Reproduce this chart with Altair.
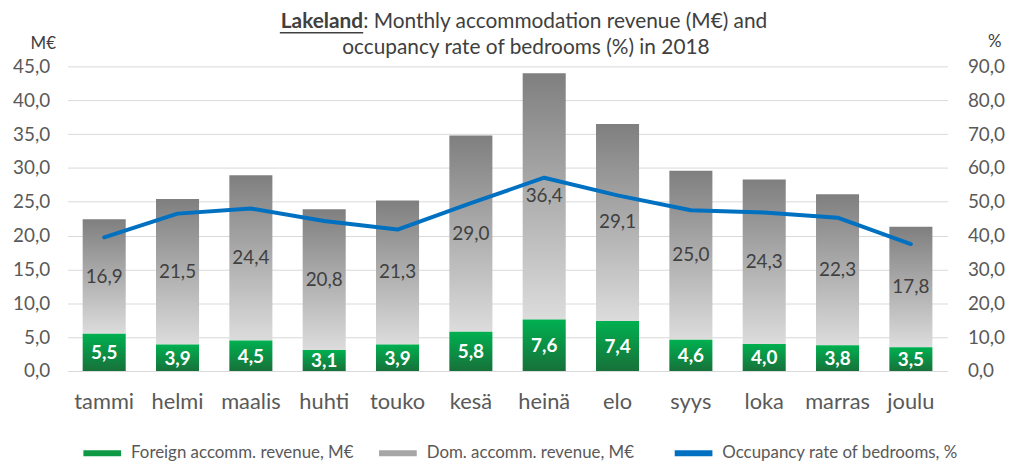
import altair as alt
import pandas as pd

months = ["tammi", "helmi", "maalis", "huhti", "touko", "kesä", "heinä",
          "elo", "syys", "loka", "marras", "joulu"]
foreign = [5.5, 3.9, 4.5, 3.1, 3.9, 5.8, 7.6, 7.4, 4.6, 4.0, 3.8, 3.5]
domestic = [16.9, 21.5, 24.4, 20.8, 21.3, 29.0, 36.4, 29.1, 25.0, 24.3, 22.3, 17.8]
occupancy = [39.5, 46.5, 48.0, 44.3, 41.8, 49.6, 57.1, 51.9, 47.5, 46.8, 45.3, 37.5]

left_ticks = [0, 5, 10, 15, 20, 25, 30, 35, 40, 45]
right_ticks = [0, 10, 20, 30, 40, 50, 60, 70, 80, 90]

S_FOR = "Foreign accomm. revenue, M€"
S_DOM = "Dom. accomm. revenue, M€"
S_OCC = "Occupancy rate of bedrooms, %"

df = pd.DataFrame({"month": months, "foreign": foreign,
                   "domestic": domestic, "occupancy": occupancy})
df["series"] = S_OCC

FONT = "Lato"
W, H = 887, 307
LBL = "#595959"
FMT = "replace(format(datum.value, '.1f'), '.', ',')"

x = alt.X("month:N", sort=months,
          scale=alt.Scale(paddingInner=0.413, paddingOuter=0.2065),
          axis=alt.Axis(title=None, labelAngle=0, labelFontSize=22, labelFont=FONT,
                        labelColor=LBL, labelPadding=21, ticks=False, tickSize=0,
                        domain=False))

base = alt.Chart(df).transform_calculate(
    total="datum.foreign + datum.domestic",
    fmid="datum.foreign / 2",
    dmid="datum.foreign + datum.domestic / 2",
    flab="replace(format(datum.foreign, '.1f'), '.', ',')",
    dlab="replace(format(datum.domestic, '.1f'), '.', ',')",
)

yscale = alt.Scale(domain=[0, 45], nice=False)
left_axis = alt.Axis(values=left_ticks, labelExpr=FMT, grid=True, gridColor="#d9d9d9",
                     ticks=False, tickSize=0, domain=False, labelFontSize=19,
                     labelFont=FONT, labelColor=LBL, labelPadding=18, labelOverlap=False,
                     title="M€", titleAngle=0, titleX=-25, titleY=-23,
                     titleAlign="center", titleBaseline="middle", titleFontSize=17,
                     titleFont=FONT, titleFontWeight="normal", titleColor="#404040")

green = alt.LinearGradient(gradient="linear",
                           stops=[alt.GradientStop(color="#00b050", offset=0),
                                  alt.GradientStop(color="#17713a", offset=1)],
                           x1=0, x2=0, y1=0, y2=1)
grey = alt.LinearGradient(gradient="linear",
                          stops=[alt.GradientStop(color="#7f7f7f", offset=0),
                                 alt.GradientStop(color="#dcdcdc", offset=1)],
                          x1=0, x2=0, y1=0, y2=1)

dom_bar = base.mark_bar(color=grey).encode(
    x=x, y=alt.Y("total:Q", scale=yscale, axis=left_axis), y2="foreign:Q")
for_bar = base.mark_bar(color=green).encode(
    x=x, y=alt.Y("foreign:Q", scale=yscale, axis=left_axis))
dom_txt = base.mark_text(fontSize=19, font=FONT, color="#404040", baseline="middle").encode(
    x=x, y=alt.Y("dmid:Q", scale=yscale, axis=left_axis), text="dlab:N")
for_txt = base.mark_text(fontSize=19, font=FONT, fontWeight="bold", color="white",
                         baseline="middle", dy=1).encode(
    x=x, y=alt.Y("fmid:Q", scale=yscale, axis=left_axis), text="flab:N")

bars = alt.layer(dom_bar, for_bar, dom_txt, for_txt)

right_axis = alt.Axis(orient="right", values=right_ticks, labelExpr=FMT, grid=False,
                      ticks=False, tickSize=0, domain=False, labelFontSize=19,
                      labelFont=FONT, labelColor=LBL, labelPadding=20, labelOverlap=False,
                      title="%", titleAngle=0, titleX=47, titleY=-25,
                      titleAlign="center", titleBaseline="middle", titleFontSize=17,
                      titleFont=FONT, titleFontWeight="normal", titleColor="#404040")

line = base.mark_line(strokeWidth=4, strokeCap="round", strokeJoin="round").encode(
    x=x,
    y=alt.Y("occupancy:Q", scale=alt.Scale(domain=[0, 90], nice=False), axis=right_axis),
    color=alt.Color("series:N",
                    scale=alt.Scale(domain=[S_FOR, S_DOM, S_OCC],
                                    range=["#0e9a45", "#a6a6a6", "#0070c0"]),
                    legend=alt.Legend(title=None, orient="none", legendX=13, legendY=368,
                                      direction="horizontal", columns=3, gridAlign="all",
                                      symbolType="M-1,0H1", symbolSize=1444,
                                      symbolStrokeWidth=6, labelFontSize=17,
                                      labelFont=FONT, labelColor=LBL,
                                      columnPadding=0, labelOffset=7,
                                      labelLimit=400)),
)

tdf = pd.DataFrame({"a": ["Lakeland"],
                    "b": [": Monthly accommodation revenue (M€) and"],
                    "c": ["occupancy rate of bedrooms (%) in 2018"]})
tbase = alt.Chart(tdf)
t1 = tbase.mark_text(align="right", baseline="middle", fontSize=21, font=FONT,
                     fontWeight="bold", color="#404040").encode(
    x=alt.value(298), y=alt.value(-45), text="a:N")
t2 = tbase.mark_text(align="left", baseline="middle", fontSize=21, font=FONT,
                     color="#404040").encode(
    x=alt.value(298), y=alt.value(-45), text="b:N")
t3 = tbase.mark_text(align="center", baseline="middle", fontSize=21, font=FONT,
                     color="#404040").encode(
    x=alt.value(462), y=alt.value(-18), text="c:N")
ul = tbase.mark_rule(color="#404040", strokeWidth=1.5).encode(
    x=alt.value(214), x2=alt.value(298), y=alt.value(-34))

chart = alt.layer(bars, line, t1, t2, t3, ul).resolve_scale(y="independent").properties(
    width=W, height=H,
    autosize=alt.AutoSizeParams(type="none"),
    padding={"left": 60, "top": 57, "right": 69, "bottom": 104},
    background="white",
).configure_view(stroke=None)

chart.save("out.html", embed_options={"renderer": "svg", "actions": False})
